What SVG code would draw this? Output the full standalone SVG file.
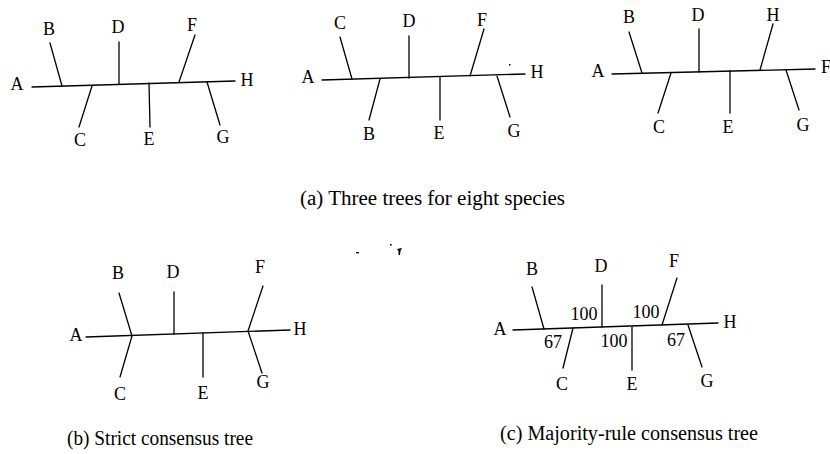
<svg xmlns="http://www.w3.org/2000/svg" width="830" height="454" viewBox="0 0 830 454" font-family="'Liberation Serif', 'Times New Roman', 'DejaVu Serif', serif">
<style>
.e{stroke:#000;stroke-width:1.3;fill:none;stroke-linecap:round}
.l{font-family:'Liberation Serif','Times New Roman','DejaVu Serif',serif;font-size:18px;fill:#000;text-anchor:middle}
.n{font-family:'Liberation Serif','Times New Roman','DejaVu Serif',serif;font-size:18px;fill:#000;text-anchor:middle}
.cap{font-family:'Liberation Serif','Times New Roman','DejaVu Serif',serif;font-size:20px;fill:#000}
.spk{fill:#000}
</style>
<rect width="830" height="454" fill="#fff"/>
<g id="connectors">
<g id="tree1-edges">
<path class="e" d="M32,87 L235,81"/>
<path class="e" d="M50,43 L62,86"/>
<path class="e" d="M92,86 L79,127"/>
<path class="e" d="M119,42 L119,84"/>
<path class="e" d="M149,83 L150,127"/>
<path class="e" d="M195,35 L179,82"/>
<path class="e" d="M207,82 L220,125"/>
</g>
<g id="tree2-edges">
<path class="e" d="M322,80 L525,74"/>
<path class="e" d="M340,37 L352,79"/>
<path class="e" d="M380,79 L369,120"/>
<path class="e" d="M409,36 L409,78"/>
<path class="e" d="M440,77 L440,120"/>
<path class="e" d="M484,29 L470,76"/>
<path class="e" d="M497,76 L510,117"/>
</g>
<g id="tree3-edges">
<path class="e" d="M612,74 L815,69"/>
<path class="e" d="M629,32 L642,73"/>
<path class="e" d="M671,73 L658,113"/>
<path class="e" d="M699,29 L699,72"/>
<path class="e" d="M730,71 L730,113"/>
<path class="e" d="M773,24 L760,70"/>
<path class="e" d="M786,70 L799,110"/>
</g>
<g id="treeb-edges">
<path class="e" d="M86,337 L290,330"/>
<path class="e" d="M119,293 L132,336 L120,377"/>
<path class="e" d="M174,292 L174,334"/>
<path class="e" d="M203,333 L203,377"/>
<path class="e" d="M263,286 L248,331 L262,373"/>
</g>
<g id="treec-edges">
<path class="e" d="M513,330 L718,323"/>
<path class="e" d="M532,287 L544,329"/>
<path class="e" d="M573,328 L563,368"/>
<path class="e" d="M602,285 L602,327"/>
<path class="e" d="M632,327 L632,370"/>
<path class="e" d="M677,278 L662,325"/>
<path class="e" d="M688,325 L702,367"/>
</g>
</g>
<g id="specks">
<rect class="spk" x="509" y="64" width="1.5" height="1.5"/>
<rect class="spk" x="356" y="252" width="3" height="1.3"/>
<rect class="spk" x="390" y="244" width="1.6" height="1.6"/>
<path class="spk" d="M397,249 L402,248 L400.5,251 L400,255 L398.5,255 L398.5,251 Z"/>
</g>
<g id="tree1">
<g id="t1-A"><text class="l" x="17" y="90">A</text></g>
<g id="t1-B"><text class="l" x="49" y="35">B</text></g>
<g id="t1-C"><text class="l" x="80" y="146">C</text></g>
<g id="t1-D"><text class="l" x="118" y="33">D</text></g>
<g id="t1-E"><text class="l" x="149" y="145">E</text></g>
<g id="t1-F"><text class="l" x="192" y="31">F</text></g>
<g id="t1-G"><text class="l" x="223" y="143">G</text></g>
<g id="t1-H"><text class="l" x="247" y="86">H</text></g>
</g>
<g id="tree2">
<g id="t2-A"><text class="l" x="308" y="83">A</text></g>
<g id="t2-C"><text class="l" x="340" y="29">C</text></g>
<g id="t2-B"><text class="l" x="369" y="140">B</text></g>
<g id="t2-D"><text class="l" x="409" y="27">D</text></g>
<g id="t2-E"><text class="l" x="439" y="139">E</text></g>
<g id="t2-F"><text class="l" x="482" y="26">F</text></g>
<g id="t2-G"><text class="l" x="514" y="137">G</text></g>
<g id="t2-H"><text class="l" x="537" y="78">H</text></g>
</g>
<g id="tree3">
<g id="t3-A"><text class="l" x="598" y="77">A</text></g>
<g id="t3-B"><text class="l" x="629" y="23">B</text></g>
<g id="t3-C"><text class="l" x="659" y="133">C</text></g>
<g id="t3-D"><text class="l" x="698" y="21">D</text></g>
<g id="t3-E"><text class="l" x="728" y="133">E</text></g>
<g id="t3-H"><text class="l" x="773" y="21">H</text></g>
<g id="t3-G"><text class="l" x="803" y="131">G</text></g>
<g id="t3-F"><text class="l" x="826" y="73">F</text></g>
</g>
<g id="caption-a"><text class="cap" x="300" y="205" textLength="265" lengthAdjust="spacingAndGlyphs">(a) Three trees for eight species</text></g>
<g id="treeb">
<g id="tb-A"><text class="l" x="76" y="341">A</text></g>
<g id="tb-B"><text class="l" x="118" y="279">B</text></g>
<g id="tb-C"><text class="l" x="120" y="400">C</text></g>
<g id="tb-D"><text class="l" x="173" y="278">D</text></g>
<g id="tb-E"><text class="l" x="203" y="399">E</text></g>
<g id="tb-F"><text class="l" x="260" y="273">F</text></g>
<g id="tb-G"><text class="l" x="263" y="388">G</text></g>
<g id="tb-H"><text class="l" x="300" y="335">H</text></g>
</g>
<g id="treec">
<g id="tc-A"><text class="l" x="500" y="335">A</text></g>
<g id="tc-B"><text class="l" x="532" y="275">B</text></g>
<g id="tc-C"><text class="l" x="562" y="390">C</text></g>
<g id="tc-D"><text class="l" x="601" y="272">D</text></g>
<g id="tc-E"><text class="l" x="632" y="390">E</text></g>
<g id="tc-F"><text class="l" x="674" y="267">F</text></g>
<g id="tc-G"><text class="l" x="707" y="387">G</text></g>
<g id="tc-H"><text class="l" x="730" y="328">H</text></g>
<g id="tc-n1"><text class="n" x="584" y="320">100</text></g>
<g id="tc-n2"><text class="n" x="646" y="318">100</text></g>
<g id="tc-n3"><text class="n" x="553" y="348">67</text></g>
<g id="tc-n4"><text class="n" x="614" y="347">100</text></g>
<g id="tc-n5"><text class="n" x="676" y="346">67</text></g>
</g>
<g id="caption-b"><text class="cap" x="67" y="445" textLength="186" lengthAdjust="spacingAndGlyphs">(b) Strict consensus tree</text></g>
<g id="caption-c"><text class="cap" x="500" y="440" textLength="258" lengthAdjust="spacingAndGlyphs">(c) Majority-rule consensus tree</text></g>
</svg>
